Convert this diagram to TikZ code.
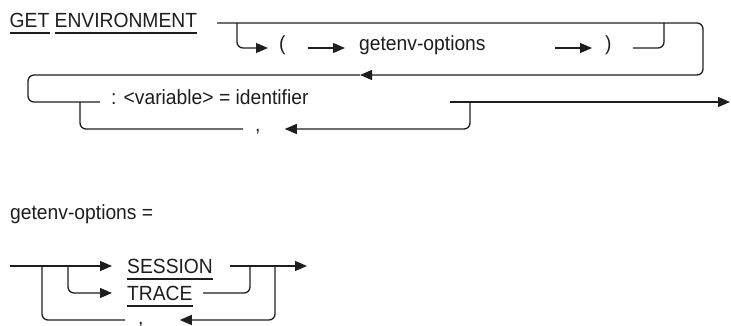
\documentclass[tikz,border=0pt]{standalone}
\usepackage{fontspec}
\setmainfont[FakeStretch=0.94]{Liberation Sans}
\usetikzlibrary{arrows.meta}
\definecolor{ink}{HTML}{1E1E1E}
\tikzset{
  ln/.style={line width=1.3pt, draw=ink, rounded corners=6pt},
  arr/.style={ln, -{Triangle[length=12pt,width=10pt]}},
  txt/.style={inner sep=0pt, anchor=mid west, font=\fontsize{20.5}{24}\selectfont, text=ink},
  kw/.style={txt, anchor=west},
  ul/.style={line width=1.2pt, draw=ink},
}
\begin{document}
\begin{tikzpicture}[x=1pt,y=-1pt]
\useasboundingbox (0,0) rectangle (731,326);
% ---------- section 1 ----------
\node[txt, anchor=base west] (get) at (9.5,28) {GET};
\node[txt, anchor=base west] (env) at (54.5,28) {ENVIRONMENT};
\draw[ul] ([yshift=-5pt]get.base west) -- ([yshift=-5pt]get.base east);
\draw[ul] ([yshift=-5pt]env.base west) -- ([yshift=-5pt]env.base east);

\node[txt] (lp) at (279,48) {(};
\node[txt] (go) at (359,48) {getenv-options};
\node[txt] (rp) at (605,48) {)};
\node[txt] (var) at (111,102) {: <variable> = identifier};
\node[txt] (cm) at (255,129) {,};

\coordinate (s1) at (217,23);
\coordinate (b1) at (237,23);
\coordinate (j1) at (664,23);
\coordinate (tr) at (703,23);
\coordinate (br) at (703,75);
\coordinate (ret) at (360,75);
\coordinate (lt) at (28,75);
\coordinate (lb) at (28,102);
\coordinate (b2) at (80,102);
\coordinate (e0) at (450,102);
\coordinate (b3) at (470,102);
\coordinate (end1) at (730,102);

\draw[arr] (s1) -- (tr) -- (br) -- (ret);
\draw[ln] (ret) -- (lt) -- (lb) -- ([xshift=-11pt]var.mid west);
\draw[arr] (b1) |- ([xshift=-11pt]lp.mid west);
\draw[arr] ([xshift=22pt]lp.mid east) -- ([xshift=-14pt]go.mid west);
\draw[arr] ([xshift=69pt]go.mid east) -- ([xshift=-13pt]rp.mid west);
\draw[ln] ([xshift=21pt]rp.mid east) -| (j1);
\draw[arr] (e0) -- (end1);
\draw[arr] (b3) |- ([xshift=24pt]cm.mid east);
\draw[ln] ([xshift=-12pt]cm.mid west) -| (b2);

% ---------- section 2 ----------
\node[txt, anchor=base west] (gdef) at (10,219) {getenv-options =};
\node[kw] (ses) at (127,266) {SESSION};
\node[kw] (tra) at (127,293) {TRACE};
\node[txt] (c2) at (138,320) {\raisebox{-1.5pt}{,}};
\draw[ul] ([yshift=-6pt]ses.base west) -- ([yshift=-6pt]ses.base east);
\draw[ul] ([yshift=-6pt]tra.base west) -- ([yshift=-6pt]tra.base east);

\coordinate (s2) at (10,266);
\coordinate (o1) at (42,266);
\coordinate (i1) at (68,266);
\coordinate (i2) at (250,266);
\coordinate (o2) at (275,266);
\coordinate (end2) at (307,266);

\draw[arr] (s2) -- ([xshift=-15pt]ses.west);
\draw[arr] (i1) |- ([xshift=-15pt]tra.west);
\draw[arr] ([xshift=17pt]ses.east) -- (end2);
\draw[ln] ([xshift=10.5pt]tra.east) -| (i2);
\draw[arr] (o2) |- ([xshift=36pt]c2.mid east);
\draw[ln] ([xshift=-13pt]c2.mid west) -| (o1);
\end{tikzpicture}
\end{document}
